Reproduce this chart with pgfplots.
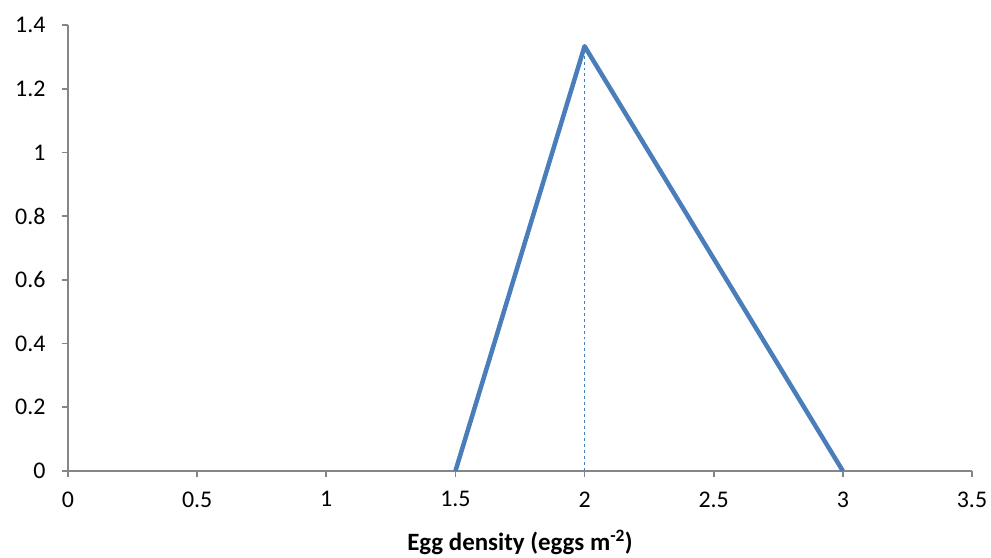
\documentclass[border=0pt]{standalone}
\usepackage{pgfplots}
\pgfplotsset{compat=1.18}
\usepackage{fontspec}
\setmainfont{Carlito}
\definecolor{lineblue}{HTML}{4A7EBB}
\definecolor{axgray}{HTML}{868686}
\begin{document}
\begin{tikzpicture}
\useasboundingbox (-68bp,-87bp) rectangle (923bp,471bp);
\begin{axis}[
  at={(0,0)}, anchor=origin,
  scale only axis,
  width=904bp, height=446bp,
  xmin=0, xmax=3.5, ymin=0, ymax=1.4,
  axis lines=left,
  axis line style={-, axgray, line width=1.6bp},
  xtick={0,0.5,...,3.5},
  ytick={0,0.2,...,1.4},
  tick style={axgray, line width=1.6bp},
  tick align=outside,
  major tick length=6bp,
  /pgf/number format/assume math mode=true,
  tick label style={font=\fontsize{24}{28}\selectfont},
  label style={font=\fontsize{25}{30}\selectfont},
  xticklabel style={yshift=-11bp},
  yticklabel style={xshift=-13bp},
  xlabel={\textbf{Egg density (eggs m\textsuperscript{-2})}},
  xlabel style={yshift=-16bp},
  clip=false,
]
\addplot[lineblue, line width=4.5bp, line join=round] coordinates {(1.5,0) (2,1.3333) (3,0)};
\addplot[lineblue, line width=1.2bp, dashed] coordinates {(2,0) (2,1.3333)};
\end{axis}
\end{tikzpicture}
\end{document}
